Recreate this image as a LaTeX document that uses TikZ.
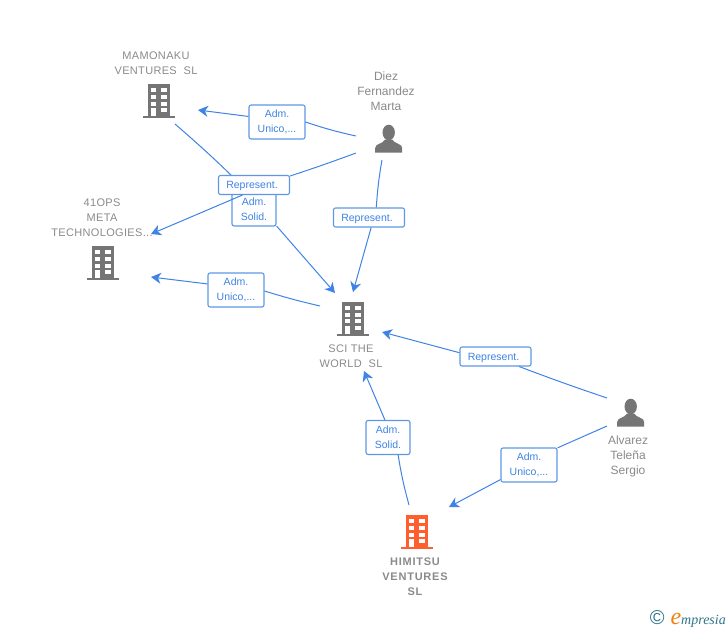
\documentclass[tikz,border=0pt]{standalone}
\usepackage{fontspec}
\setmainfont{Liberation Sans}
\newfontfamily\namefont[LetterSpace=3]{Liberation Sans}
\newfontfamily\boldfont[LetterSpace=7]{Liberation Sans}
\newfontfamily\logofont{Liberation Serif}
\usetikzlibrary{arrows.meta}
\definecolor{linkblue}{HTML}{3F83E4}
\definecolor{boxblue}{HTML}{5F97E6}
\definecolor{namegray}{HTML}{8A8A8A}
\definecolor{icongray}{HTML}{757575}
\definecolor{iconorange}{HTML}{FF5F2E}
\definecolor{logoteal}{HTML}{2F7488}
\definecolor{logoorange}{HTML}{F08010}
\tikzset{%
  >={Stealth[inset=3pt,length=10pt,width=11pt]},
  % Specifications for style of nodes:
       lblbase/.style = {rectangle, rounded corners=2pt, draw=boxblue, line width=1.1pt,
                         fill=white, text=linkblue, inner sep=0pt, align=center,
                         font=\fontsize{10.5}{15}\selectfont},
       lblwide/.style = {lblbase, minimum width=71pt, minimum height=19pt,
                         execute at begin node={\rule{0pt}{10pt}}},
      lblunico/.style = {lblbase, minimum width=56pt, minimum height=34pt,
                         execute at begin node={\rule{0pt}{12pt}}},
      lblsolid/.style = {lblbase, minimum width=44pt, minimum height=34pt,
                         execute at begin node={\rule{0pt}{12pt}}},
      namenode/.style = {text=namegray, align=center, inner sep=0pt,
                         font=\fontsize{11}{15}\namefont},
      namebold/.style = {namenode, font=\fontsize{11}{15}\boldfont\bfseries},
     nameplain/.style = {namenode, font=\fontsize{12}{15}\selectfont},
          link/.style = {linkblue, line width=1pt},
  building/.pic = {
    \fill[pic actions] (-11,-17) rectangle (11,15);
    \fill[pic actions] (-16,15) rectangle (16,17);
    \foreach \wy in {-12.7,-6,0.7} {
      \fill[white] (-8,\wy) rectangle ++(5.3,4);
      \fill[white] (2.3,\wy) rectangle ++(5.4,4);
    }
    \fill[white] (-8,7.3) rectangle (-2.7,15);
    \fill[white] (2.3,7.3) rectangle (7.7,11.3);
  },
  person/.pic = {
    \fill[pic actions] (0,0) ellipse (6.2 and 7.8);
    \fill[pic actions] (-13.5,20) -- (-13.5,15.5) .. controls (-13.5,11) and (-6,11.5) .. (-3.5,7)
      -- (3.5,7) .. controls (6,11.5) and (13.5,11) .. (13.5,15.5) -- (13.5,20) -- cycle;
  },
}
\begin{document}
\begin{tikzpicture}[x=1pt, y=-1pt]
\useasboundingbox (0,0) rectangle (728,630);

% icons
\pic (iconMam) [fill=icongray] at (159,101) {building};
\pic (iconOps) [fill=icongray] at (103,263) {building};
\pic (iconSci) [fill=icongray] at (353,318.5) {building};
\pic (iconHim) [fill=iconorange] at (417,532) {building};
\pic (iconDiez) [fill=icongray] at (388.7,132.5) {person};
\pic (iconAlv) [fill=icongray] at (630.7,406.5) {person};

% names
\node (Mam)  [namenode]  at (156,63)    {MAMONAKU\\VENTURES\ \ SL};
\node (Ops)  [namenode]  at (102,217.5) {41OPS\\META\\TECHNOLOGIES...};
\node (Sci)  [namenode]  at (351,356)   {SCI THE\\WORLD\ \ SL};
\node (Him)  [namebold]  at (415,576.5) {HIMITSU\\VENTURES\\SL};
\node (Diez) [nameplain] at (386,91)    {Diez\\Fernandez\\Marta};
\node (Alv)  [nameplain] at (628,456)   {Alvarez\\Teleña\\Sergio};

% free ends of the connectors
\coordinate (diezMamOut) at (356,136);
\coordinate (diezOpsOut) at (356,153);
\coordinate (diezSciOut) at (382,160);
\coordinate (mamOut)     at (175,124);
\coordinate (sciOut)     at (320,306);
\coordinate (alvSciOut)  at (607,398);
\coordinate (alvHimOut)  at (607,426);
\coordinate (himOut)     at (409,505);
\coordinate (mamIn)      at (198,110);
\coordinate (opsInA)     at (151,234);
\coordinate (opsInB)     at (151,277);
\coordinate (sciInA)     at (335,293);
\coordinate (sciInB)     at (353,292);
\coordinate (sciInC)     at (382,332);
\coordinate (sciInD)     at (364,371);
\coordinate (himIn)      at (449,507);

% Adm. Solid sits under the Represent box
\node (lblMamSci) [lblsolid] at (254,209) {Adm.\\Solid.};
\draw[link] (mamOut) to[bend left=2] (lblMamSci.110);
\draw[link,->] (lblMamSci.-37) -- (sciInA);

\node (lblDiezOps) [lblwide] at (254,185) {Represent.\kern4pt};
\draw[link] (diezOpsOut) to[bend left=1] (lblDiezOps.14);
\draw[link,->] (lblDiezOps.-139) -- (opsInA);

\node (lblDiezMam) [lblunico] at (277,122) {Adm.\\Unico,...};
\draw[link] (diezMamOut) to[bend left=3] (lblDiezMam.0);
\draw[link,->] (lblDiezMam.169) -- (mamIn);

\node (lblDiezSci) [lblwide] at (369,217.5) {Represent.\kern4pt};
\draw[link] (diezSciOut) to[bend right=3] (lblDiezSci.54);
\draw[link,->] (lblDiezSci.-78) -- (sciInB);

\node (lblSciOps) [lblunico] at (236,290) {Adm.\\Unico,...};
\draw[link] (sciOut) to[bend left=2] (lblSciOps.-2);
\draw[link,->] (lblSciOps.168) -- (opsInB);

\node (lblAlvSci) [lblwide] at (495.5,356.5) {Represent.\kern4pt};
\draw[link] (alvSciOut) to[bend left=1] (lblAlvSci.-23);
\draw[link,->] (lblAlvSci.174) -- (sciInC);

\node (lblAlvHim) [lblunico] at (529,465) {Adm.\\Unico,...};
\draw[link] (alvHimOut) -- (lblAlvHim.31);
\draw[link,->] (lblAlvHim.-153) -- (himIn);

\node (lblHimSci) [lblsolid] at (388,437.5) {Adm.\\Solid.};
\draw[link] (himOut) to[bend left=3] (lblHimSci.-60);
\draw[link,->] (lblHimSci.100) -- (sciInD);

% logo
\node (logo) [inner sep=0pt, anchor=east] at (726,619) {%
  \textcolor{logoteal}{\fontsize{20}{20}\selectfont ©}\hspace{6pt}%
  \logofont\itshape\textcolor{logoorange}{\fontsize{24}{24}\selectfont e}%
  \textcolor{logoteal}{\fontsize{14}{14}\selectfont mpresia}};
\end{tikzpicture}
\end{document}
